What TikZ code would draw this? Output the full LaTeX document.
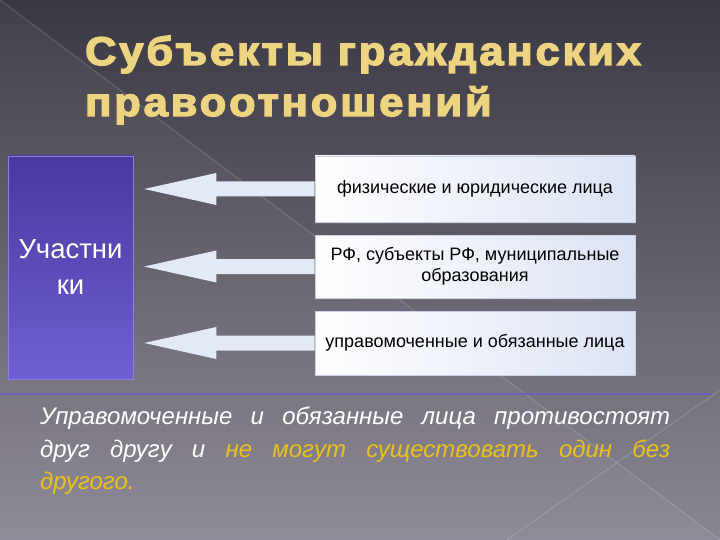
\documentclass[tikz,border=0pt]{standalone}
\usepackage{fontspec}
\setmainfont{Liberation Sans}
\newfontfamily\titlefont[LetterSpace=7,FakeBold=3.5]{Liberation Sans Bold}
\usetikzlibrary{calc,shadows}
\definecolor{bgtop}{RGB}{58,56,66}
\definecolor{bgbot}{RGB}{140,135,148}
\definecolor{titlecol}{RGB}{236,212,128}
\definecolor{parttop}{RGB}{72,56,160}
\definecolor{partbot}{RGB}{110,96,210}
\definecolor{arrowcol}{RGB}{228,233,247}
\definecolor{boxright}{RGB}{220,227,245}
\definecolor{boxline}{RGB}{200,208,232}
\definecolor{gold}{RGB}{232,194,26}
\definecolor{rule}{RGB}{108,94,196}
\begin{document}
\begin{tikzpicture}[x=1pt,y=-1pt,
  titletext/.style={anchor=base west, inner sep=0pt, text=titlecol, xscale=1.08, transform shape,
    font=\titlefont\fontsize{40}{40}\selectfont},
  rbox/.style={draw=boxline, line width=0.6pt, left color=white, right color=boxright,
    minimum width=320pt, minimum height=64pt, align=center, text=black, inner sep=0pt,
    font=\fontsize{18}{21}\selectfont,
    drop shadow={shadow xshift=1pt, shadow yshift=-2pt, opacity=0.45}},
  partbox/.style={top color=parttop, bottom color=partbot, draw=partbot!80!white, line width=0.5pt,
    minimum width=125pt, minimum height=223pt, align=center, text=white, inner sep=0pt,
    font=\fontsize{27.5}{36}\selectfont},
  blockarrow/.style={fill=arrowcol},
  diagline/.style={draw=white, opacity=0.18, line width=0.8pt}
]
\path[use as bounding box] (0,0) rectangle (720,540);
% background
\fill[top color=bgtop, bottom color=bgbot] (0,0) rectangle (720,540);
\fill[white, opacity=0.04] (0,0) -- (720,540) -- (0,540) -- cycle;
\draw[diagline] (0,0) -- (720,540);
\draw[diagline] (720,390) -- (507,540);
\draw[rule, line width=2.5pt, opacity=0.9] (0,394) -- (712,394);

% title
\node[titletext] (t1) at (85,65) {Субъекты гражданских};
\node[titletext] (t2) at (85,116) {правоотношений};

% boxes
\node[partbox] (part) at (70.5,267.5) {Участни\\ки};
\node[rbox, minimum height=66pt] (b1) at (475,189) {физические и юридические лица};
\node[rbox, minimum height=63pt] (b2) at (475,266.5) {РФ, субъекты РФ, муниципальные\\образования};
\node[rbox] (b3) at (475,343) {управомоченные и обязанные лица};

% arrows
\foreach \b in {b1,b2,b3}{
  \coordinate (t\b) at (part.east |- \b.west);
  \fill[blockarrow] ($(\b.west)+(0,-7.5)$) -- ($(t\b)+(83,-7.5)$) -- ($(t\b)+(83,-16)$)
    -- ($(t\b)+(11,0)$) -- ($(t\b)+(83,16)$) -- ($(t\b)+(83,7.5)$) -- ($(\b.west)+(0,7.5)$) -- cycle;
}

% note
\node[anchor=north west, inner sep=0pt, text width=630pt, align=justify, text=white,
  font=\itshape\fontsize{24}{32.5}\selectfont] (note) at (40,407)
  {\hyphenpenalty=10000\relax Управомоченные и обязанные лица противостоят\linebreak друг другу и \textcolor{gold}{не могут существовать один без\linebreak другого.}};
\end{tikzpicture}
\end{document}
